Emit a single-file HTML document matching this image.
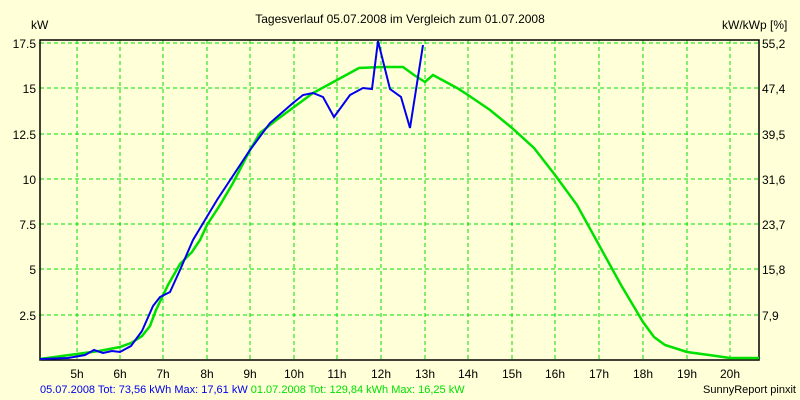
<!DOCTYPE html>
<html><head><meta charset="utf-8"><style>
html,body{margin:0;padding:0;background:#FFFFD8;}
svg{display:block;font-family:"Liberation Sans",sans-serif;}
</style></head><body>
<svg width="800" height="400" viewBox="0 0 800 400" xmlns="http://www.w3.org/2000/svg">
<rect width="800" height="400" fill="#FFFFD8"/>
<text x="400" y="23" font-size="12" text-anchor="middle">Tagesverlauf 05.07.2008 im Vergleich zum 01.07.2008</text>
<text x="31" y="29" font-size="12">kW</text>
<text x="722" y="29" font-size="12">kW/kWp [%]</text>
<g stroke="#00E000" stroke-dasharray="4,3" stroke-width="1">
<line x1="40" y1="43" x2="759" y2="43"/><line x1="40" y1="88" x2="759" y2="88"/>
<line x1="40" y1="134" x2="759" y2="134"/><line x1="40" y1="179" x2="759" y2="179"/>
<line x1="40" y1="224" x2="759" y2="224"/><line x1="40" y1="269" x2="759" y2="269"/>
<line x1="40" y1="315" x2="759" y2="315"/>
<line x1="77" y1="40" x2="77" y2="360"/><line x1="120" y1="40" x2="120" y2="360"/>
<line x1="163" y1="40" x2="163" y2="360"/><line x1="207" y1="40" x2="207" y2="360"/>
<line x1="250" y1="40" x2="250" y2="360"/><line x1="294" y1="40" x2="294" y2="360"/>
<line x1="337" y1="40" x2="337" y2="360"/><line x1="381" y1="40" x2="381" y2="360"/>
<line x1="425" y1="40" x2="425" y2="360"/><line x1="468" y1="40" x2="468" y2="360"/>
<line x1="512" y1="40" x2="512" y2="360"/><line x1="555" y1="40" x2="555" y2="360"/>
<line x1="599" y1="40" x2="599" y2="360"/><line x1="643" y1="40" x2="643" y2="360"/>
<line x1="687" y1="40" x2="687" y2="360"/><line x1="730" y1="40" x2="730" y2="360"/>
</g>
<rect x="40" y="40" width="719" height="320" fill="none" stroke="#000" stroke-width="1.5"/>
<g font-size="12" text-anchor="end">
<text x="36" y="48">17.5</text><text x="36" y="93">15</text><text x="36" y="139">12.5</text>
<text x="36" y="184">10</text><text x="36" y="229">7.5</text><text x="36" y="274">5</text><text x="36" y="320">2.5</text>
</g>
<g font-size="12">
<text x="762" y="48">55,2</text><text x="762" y="93">47,4</text><text x="762" y="139">39,5</text>
<text x="762" y="184">31,6</text><text x="762" y="229">23,7</text><text x="762" y="274">15,8</text><text x="762" y="320">7,9</text>
</g>
<g font-size="12" text-anchor="middle">
<text x="77" y="378">5h</text><text x="120" y="378">6h</text><text x="163" y="378">7h</text><text x="207" y="378">8h</text>
<text x="250" y="378">9h</text><text x="294" y="378">10h</text><text x="337" y="378">11h</text><text x="381" y="378">12h</text>
<text x="425" y="378">13h</text><text x="468" y="378">14h</text><text x="512" y="378">15h</text><text x="555" y="378">16h</text>
<text x="599" y="378">17h</text><text x="643" y="378">18h</text><text x="687" y="378">19h</text><text x="730" y="378">20h</text>
</g>
<polyline fill="none" stroke="#00E000" stroke-width="2.5" points="40,359 77,354 99,351 120,347 131,343 142,336 150,326 156,310 168,285 180,264 192,252 200,240 207,225 220,205 233,183 250,150 260,133 275,121 290,110 313,93 337,80 359,68 381,67 403,67 414,75 425,82 433,75 446,82 457,88 468,95 490,110 512,128 534,148 555,175 577,205 599,245 621,285 643,322 654,337 665,345 687,352 709,355 730,358 759,358"/>
<polyline fill="none" stroke="#0000EE" stroke-width="2" points="40,359 68,358 85,355 94,350 103,353 112,351 120,352 131,346 142,331 153,306 160,297 170,292 180,270 193,240 217,200 250,150 270,123 293,103 303,95 313,93 323,97 334,117 350,95 363,88 372,89 378,41 390,89 401,97 410,128 423,45"/>
<text x="40" y="393" font-size="11" fill="#0000EE">05.07.2008 Tot: 73,56 kWh Max: 17,61 kW <tspan fill="#00E000">01.07.2008 Tot: 129,84 kWh Max: 16,25 kW</tspan></text>
<text x="796" y="393" font-size="11" text-anchor="end">SunnyReport pinxit</text>
</svg>
</body></html>
